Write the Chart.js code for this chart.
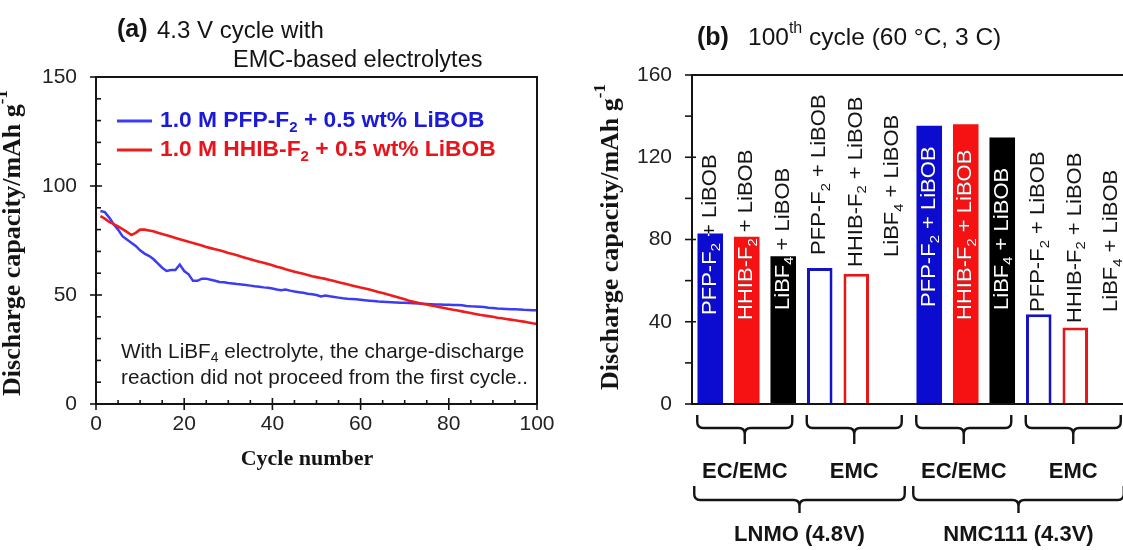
<!DOCTYPE html>
<html>
<head>
<meta charset="utf-8">
<script src="https://cdn.jsdelivr.net/npm/chart.js@4.4.1/dist/chart.umd.min.js"></script>
<style>
  html, body { margin: 0; padding: 0; background: #fff; overflow: hidden; width: 1123px; height: 550px; }
  #wrapA { position: absolute; left: 0; top: 0; width: 560px; height: 550px; }
  #wrapB { position: absolute; left: 560px; top: 0; width: 575px; height: 550px; }
  canvas { display: block; }
</style>
</head>
<body>
<div id="wrapA"><canvas id="cycA" width="560" height="550"></canvas></div>
<div id="wrapB"><canvas id="barB" width="575" height="550"></canvas></div>
<script>
// ---------- (a) discharge capacity per cycle, cycles 1..100 ----------
const pfpLiBOB = [
  88.5, 88.0, 85.5, 82.5, 80.0, 77.0, 75.5, 74.0, 72.5, 70.5,
  69.0, 68.0, 66.5, 64.5, 62.5, 61.0, 61.5, 61.5, 64.0, 61.0,
  59.5, 56.5, 56.5, 57.5, 57.5, 57.0, 56.5, 56.0, 55.8, 55.5,
  55.3, 55.0, 54.8, 54.6, 54.3, 54.0, 53.8, 53.5, 53.3, 53.0,
  52.5, 52.2, 52.5, 52.0, 51.6, 51.3, 51.0, 50.6, 50.3, 50.0,
  49.3, 49.8, 49.4, 49.1, 48.8, 48.5, 48.3, 48.2, 48.0, 47.8,
  47.6, 47.4, 47.2, 47.0, 46.9, 46.8, 46.7, 46.6, 46.5, 46.4,
  46.3, 46.2, 46.1, 46.0, 45.9, 45.8, 45.7, 45.6, 45.5, 45.5,
  45.4, 45.4, 45.3, 45.0, 44.8, 44.7, 44.6, 44.5, 44.2, 44.0,
  43.8, 43.7, 43.6, 43.5, 43.5, 43.4, 43.2, 43.1, 43.0, 43.0
];
const hhibLiBOB = [
  86.2, 85.0, 83.5, 82.5, 81.5, 80.2, 79.0, 77.5, 78.5, 80.0,
  80.0, 79.6, 79.2, 78.6, 78.0, 77.4, 76.8, 76.2, 75.6, 75.0,
  74.4, 73.9, 73.3, 72.7, 72.0, 71.5, 71.0, 70.5, 70.0, 69.3,
  68.8, 68.2, 67.6, 67.0, 66.4, 65.8, 65.3, 64.8, 64.2, 63.6,
  63.0, 62.5, 61.8, 61.2, 60.7, 60.2, 59.7, 59.2, 58.6, 58.2,
  57.8, 57.4, 56.9, 56.4, 55.9, 55.4, 54.9, 54.4, 53.9, 53.4,
  53.0, 52.5, 52.0, 51.4, 50.9, 50.3, 49.8, 49.2, 48.6, 48.0,
  47.4, 46.9, 46.4, 46.0, 45.6, 45.2, 44.8, 44.4, 44.0, 43.6,
  43.2, 42.9, 42.5, 42.1, 41.7, 41.3, 40.9, 40.6, 40.3, 40.0,
  39.6, 39.3, 39.0, 38.7, 38.4, 38.1, 37.8, 37.4, 37.0, 36.7
];
const legendA = ['1.0 M PFP-F_{2} + 0.5 wt% LiBOB', '1.0 M HHIB-F_{2} + 0.5 wt% LiBOB'];
const xTicksA = [0, 20, 40, 60, 80, 100];
const yTicksA = [0, 50, 100, 150];

// ---------- (b) 100th-cycle capacity ----------
const barLabels = [
  'PFP-F_{2} + LiBOB', 'HHIB-F_{2} + LiBOB', 'LiBF_{4} + LiBOB',
  'PFP-F_{2} + LiBOB', 'HHIB-F_{2} + LiBOB', 'LiBF_{4} + LiBOB',
  'PFP-F_{2} + LiBOB', 'HHIB-F_{2} + LiBOB', 'LiBF_{4} + LiBOB',
  'PFP-F_{2} + LiBOB', 'HHIB-F_{2} + LiBOB', 'LiBF_{4} + LiBOB'
];
const barValues = [82.9, 81.3, 71.9, 66.2, 63.3, 0, 135.3, 136.1, 129.6, 43.7, 37.2, 0];
const solventGroups = [
  { from: 0, to: 2, label: 'EC/EMC' }, { from: 3, to: 5, label: 'EMC' },
  { from: 6, to: 8, label: 'EC/EMC' }, { from: 9, to: 11, label: 'EMC' }
];
const cathodeGroups = [
  { from: 0, to: 5, label: 'LNMO (4.8V)' }, { from: 6, to: 11, label: 'NMC111 (4.3V)' }
];
const yTicksB = [0, 40, 80, 120, 160];

// ---------- styling ----------
const BLUE_LINE = '#3c3cf4', RED_LINE = '#f01c1c';
const BLUE = '#0c0cd0', RED = '#f61212', BLACK = '#000000';
const barFill   = [BLUE, RED, BLACK, '#ffffff', '#ffffff', '#ffffff', BLUE, RED, BLACK, '#ffffff', '#ffffff', '#ffffff'];
const barBorder = [BLUE, RED, BLACK, '#1414c4', '#e41818', '#000000', BLUE, RED, BLACK, '#1414c4', '#e41818', '#000000'];
const barOpen   = [false, false, false, true, true, true, false, false, false, true, true, true];
// distance in px from the x axis up to where each rotated label begins
const labelLift = [89, 84, 94, 149, 137, 147, 97, 84, 94, 92, 81, 92];

const SANS = '"Liberation Sans", Arial, Helvetica, sans-serif';
const SERIF = '"Liberation Serif", "Times New Roman", serif';
const INK = '#141414';

// text with _{sub} and ^{sup} segments
function parseRich(s) {
  const out = []; const re = /([_^])\{([^}]*)\}/g; let last = 0, m;
  while ((m = re.exec(s))) {
    if (m.index > last) out.push({ t: s.slice(last, m.index), k: 0 });
    out.push({ t: m[2], k: m[1] === '_' ? 1 : -1 });
    last = re.lastIndex;
  }
  if (last < s.length) out.push({ t: s.slice(last), k: 0 });
  return out;
}
function drawRich(ctx, s, x, y, o) {
  const size = o.size, fam = o.family || SANS, wt = o.bold ? 'bold ' : '';
  const parts = parseRich(s);
  const font = k => wt + (k ? Math.round(size * 0.66) : size) + 'px ' + fam;
  let w = 0;
  parts.forEach(p => { ctx.font = font(p.k); p.w = ctx.measureText(p.t).width; w += p.w; });
  ctx.save();
  ctx.translate(x, y);
  if (o.rotate) ctx.rotate(-Math.PI / 2);
  if (o.sx) ctx.scale(o.sx, 1);
  let cx = o.align === 'center' ? -w / 2 : o.align === 'right' ? -w : 0;
  ctx.textBaseline = 'middle'; ctx.textAlign = 'left';
  ctx.fillStyle = o.color || INK;
  parts.forEach(p => {
    ctx.font = font(p.k);
    const dy = p.k === 1 ? size * 0.32 : p.k === -1 ? -size * 0.4 : 0;
    ctx.fillText(p.t, cx, dy);
    cx += p.w;
  });
  ctx.restore();
  return w;
}
function line(ctx, x1, y1, x2, y2) { ctx.beginPath(); ctx.moveTo(x1, y1); ctx.lineTo(x2, y2); ctx.stroke(); }
function brace(ctx, x0, x1, yTop, yMid, yEnd) {
  const r = 6, xc = (x0 + x1) / 2;
  ctx.beginPath();
  ctx.moveTo(x0, yTop);
  ctx.lineTo(x0, yMid - r);
  ctx.quadraticCurveTo(x0, yMid, x0 + r, yMid);
  ctx.lineTo(xc - r, yMid);
  ctx.quadraticCurveTo(xc, yMid, xc, yMid + r);
  ctx.lineTo(xc, yEnd);
  ctx.moveTo(xc, yMid + r);
  ctx.quadraticCurveTo(xc, yMid, xc + r, yMid);
  ctx.lineTo(x1 - r, yMid);
  ctx.quadraticCurveTo(x1, yMid, x1, yMid - r);
  ctx.lineTo(x1, yTop);
  ctx.stroke();
}

// ---------- panel (a) decorations: frame, ticks, texts ----------
const panelA = {
  id: 'panelA',
  afterDraw(chart) {
    const { ctx, chartArea: a, scales: { x, y } } = chart;
    ctx.save();
    ctx.strokeStyle = INK; ctx.lineWidth = 2;
    ctx.strokeRect(a.left, a.top, a.right - a.left, a.bottom - a.top);
    ctx.lineWidth = 1.6;
    for (let v = 0; v <= 150; v += 10) {
      const py = y.getPixelForValue(v), major = v % 50 === 0;
      line(ctx, a.left - (major ? 6 : 0), py, a.left + (major ? 6 : 5), py);
    }
    for (let v = 0; v <= 100; v += 5) {
      const px = x.getPixelForValue(v), major = v % 20 === 0;
      line(ctx, px, a.bottom + (major ? 6 : 0), px, a.bottom - (major ? 6 : 4));
    }
    yTicksA.forEach(v => drawRich(ctx, String(v), a.left - 19, y.getPixelForValue(v), { size: 21, align: 'right', color: '#222' }));
    xTicksA.forEach(v => drawRich(ctx, String(v), x.getPixelForValue(v), a.bottom + 20, { size: 21, align: 'center', color: '#222' }));
    drawRich(ctx, 'Cycle number', a.left + 211, a.bottom + 55, { size: 22, bold: true, family: SERIF, align: 'center' });
    drawRich(ctx, 'Discharge capacity/mAh g^{-1}', 13, 243, { size: 26, bold: true, family: SERIF, align: 'center', rotate: true });

    drawRich(ctx, '(a)', 117, 30, { size: 25, bold: true });
    drawRich(ctx, '4.3 V cycle with', 157, 31, { size: 24 });
    drawRich(ctx, 'EMC-based electrolytes', 233, 61, { size: 23.5 });

    // legend
    [[BLUE_LINE, '#1a1ad8', 121], [RED_LINE, '#e8141c', 150]].forEach((c, i) => {
      ctx.strokeStyle = c[0]; ctx.lineWidth = 3;
      line(ctx, 117, c[2], 152, c[2]);
      drawRich(ctx, legendA[i], 160, c[2], { size: 22.8, bold: true, color: c[1] });
    });
    drawRich(ctx, 'With LiBF_{4} electrolyte, the charge-discharge', 121, 352, { size: 20.7, color: '#1a1a1a' });
    drawRich(ctx, 'reaction did not proceed from the first cycle..', 121, 378, { size: 20.7, color: '#1a1a1a' });
    ctx.restore();
  }
};

new Chart(document.getElementById('cycA'), {
  type: 'line',
  data: {
    datasets: [
      { label: legendA[0], data: pfpLiBOB.map((v, i) => ({ x: i + 1, y: v })), borderColor: BLUE_LINE, borderWidth: 2.5, pointRadius: 0, tension: 0, order: 1 },
      { label: legendA[1], data: hhibLiBOB.map((v, i) => ({ x: i + 1, y: v })), borderColor: RED_LINE, borderWidth: 2.6, pointRadius: 0, tension: 0, order: 0 }
    ]
  },
  options: {
    responsive: false, animation: false, devicePixelRatio: 1,
    layout: { padding: { left: 0, top: 77, right: 23, bottom: 0 } },
    plugins: { legend: { display: false }, tooltip: { enabled: false } },
    scales: {
      x: { type: 'linear', min: 0, max: 100, ticks: { display: false }, grid: { display: false }, border: { display: false }, afterFit(s) { s.height = 146; } },
      y: { min: 0, max: 150, ticks: { display: false }, grid: { display: false }, border: { display: false }, afterFit(s) { s.width = 96; } }
    }
  },
  plugins: [panelA]
});

// ---------- panel (b) decorations: labels, axes, braces ----------
const panelB = {
  id: 'panelB',
  afterDatasetsDraw(chart) {
    const { ctx, chartArea: a, scales: { x, y } } = chart;
    const bars = chart.getDatasetMeta(0).data;
    ctx.save();
    bars.forEach((bar, i) => {
      const opts = { size: 19.5, rotate: true, align: 'left', sx: 1.13 };
      const ay = a.bottom - labelLift[i];
      drawRich(ctx, barLabels[i], bar.x, ay, Object.assign({ color: INK }, opts));
      if (!barOpen[i] && barValues[i] > 0) {
        ctx.save();
        ctx.beginPath();
        ctx.rect(bar.x - bar.width / 2, bar.y, bar.width, bar.base - bar.y);
        ctx.clip();
        drawRich(ctx, barLabels[i], bar.x, ay, Object.assign({ color: '#ffffff' }, opts));
        ctx.restore();
      }
    });

    // axes
    ctx.strokeStyle = INK; ctx.lineWidth = 2;
    line(ctx, a.left, a.top - 1, a.left, a.bottom + 1);
    line(ctx, a.left, a.top, a.right, a.top);
    line(ctx, a.left, a.bottom, a.right, a.bottom);
    ctx.lineWidth = 1.6;
    for (let v = 0; v <= 160; v += 20) {
      const py = y.getPixelForValue(v), major = v % 40 === 0;
      line(ctx, a.left - 7, py, a.left + (major ? 4 : 0), py);
    }
    yTicksB.forEach(v => drawRich(ctx, String(v), a.left - 20, y.getPixelForValue(v), { size: 21, align: 'right', color: '#222' }));
    drawRich(ctx, 'Discharge capacity/mAh g^{-1}', 51, 237, { size: 26, bold: true, family: SERIF, align: 'center', rotate: true });

    drawRich(ctx, '(b)', 137, 38, { size: 25, bold: true });
    drawRich(ctx, '100^{th} cycle (60 °C, 3 C)', 188, 38, { size: 24.5 });

    // solvent and cathode braces
    ctx.lineWidth = 2.4; ctx.strokeStyle = INK;
    solventGroups.forEach(g => {
      const x0 = x.getPixelForValue(g.from) - 13, x1 = x.getPixelForValue(g.to) + 9;
      brace(ctx, x0, x1, a.bottom + 11, a.bottom + 24, a.bottom + 40);
      drawRich(ctx, g.label, (x0 + x1) / 2, a.bottom + 68, { size: 22, bold: true, align: 'center' });
    });
    cathodeGroups.forEach(g => {
      const x0 = x.getPixelForValue(g.from) - 16, x1 = x.getPixelForValue(g.to) + 12;
      brace(ctx, x0, x1, a.bottom + 82, a.bottom + 96, a.bottom + 109);
      drawRich(ctx, g.label, (x0 + x1) / 2, a.bottom + 131, { size: 22, bold: true, align: 'center' });
    });
    ctx.restore();
  }
};

new Chart(document.getElementById('barB'), {
  type: 'bar',
  data: {
    labels: barLabels,
    datasets: [{
      data: barValues,
      backgroundColor: barFill,
      borderColor: barBorder,
      borderWidth: barValues.map((v, i) => (barOpen[i] && v > 0) ? 3 : 0),
      borderSkipped: 'start',
      barPercentage: 0.7,
      categoryPercentage: 1
    }]
  },
  options: {
    responsive: false, animation: false, devicePixelRatio: 1,
    layout: { padding: { left: 0, top: 75, right: 5, bottom: 0 } },
    plugins: { legend: { display: false }, tooltip: { enabled: false } },
    scales: {
      x: { type: 'category', ticks: { display: false }, grid: { display: false }, border: { display: false }, afterFit(s) { s.height = 146; } },
      y: { min: 0, max: 160, ticks: { display: false }, grid: { display: false }, border: { display: false }, afterFit(s) { s.width = 132; } }
    }
  },
  plugins: [panelB]
});
</script>
</body>
</html>
